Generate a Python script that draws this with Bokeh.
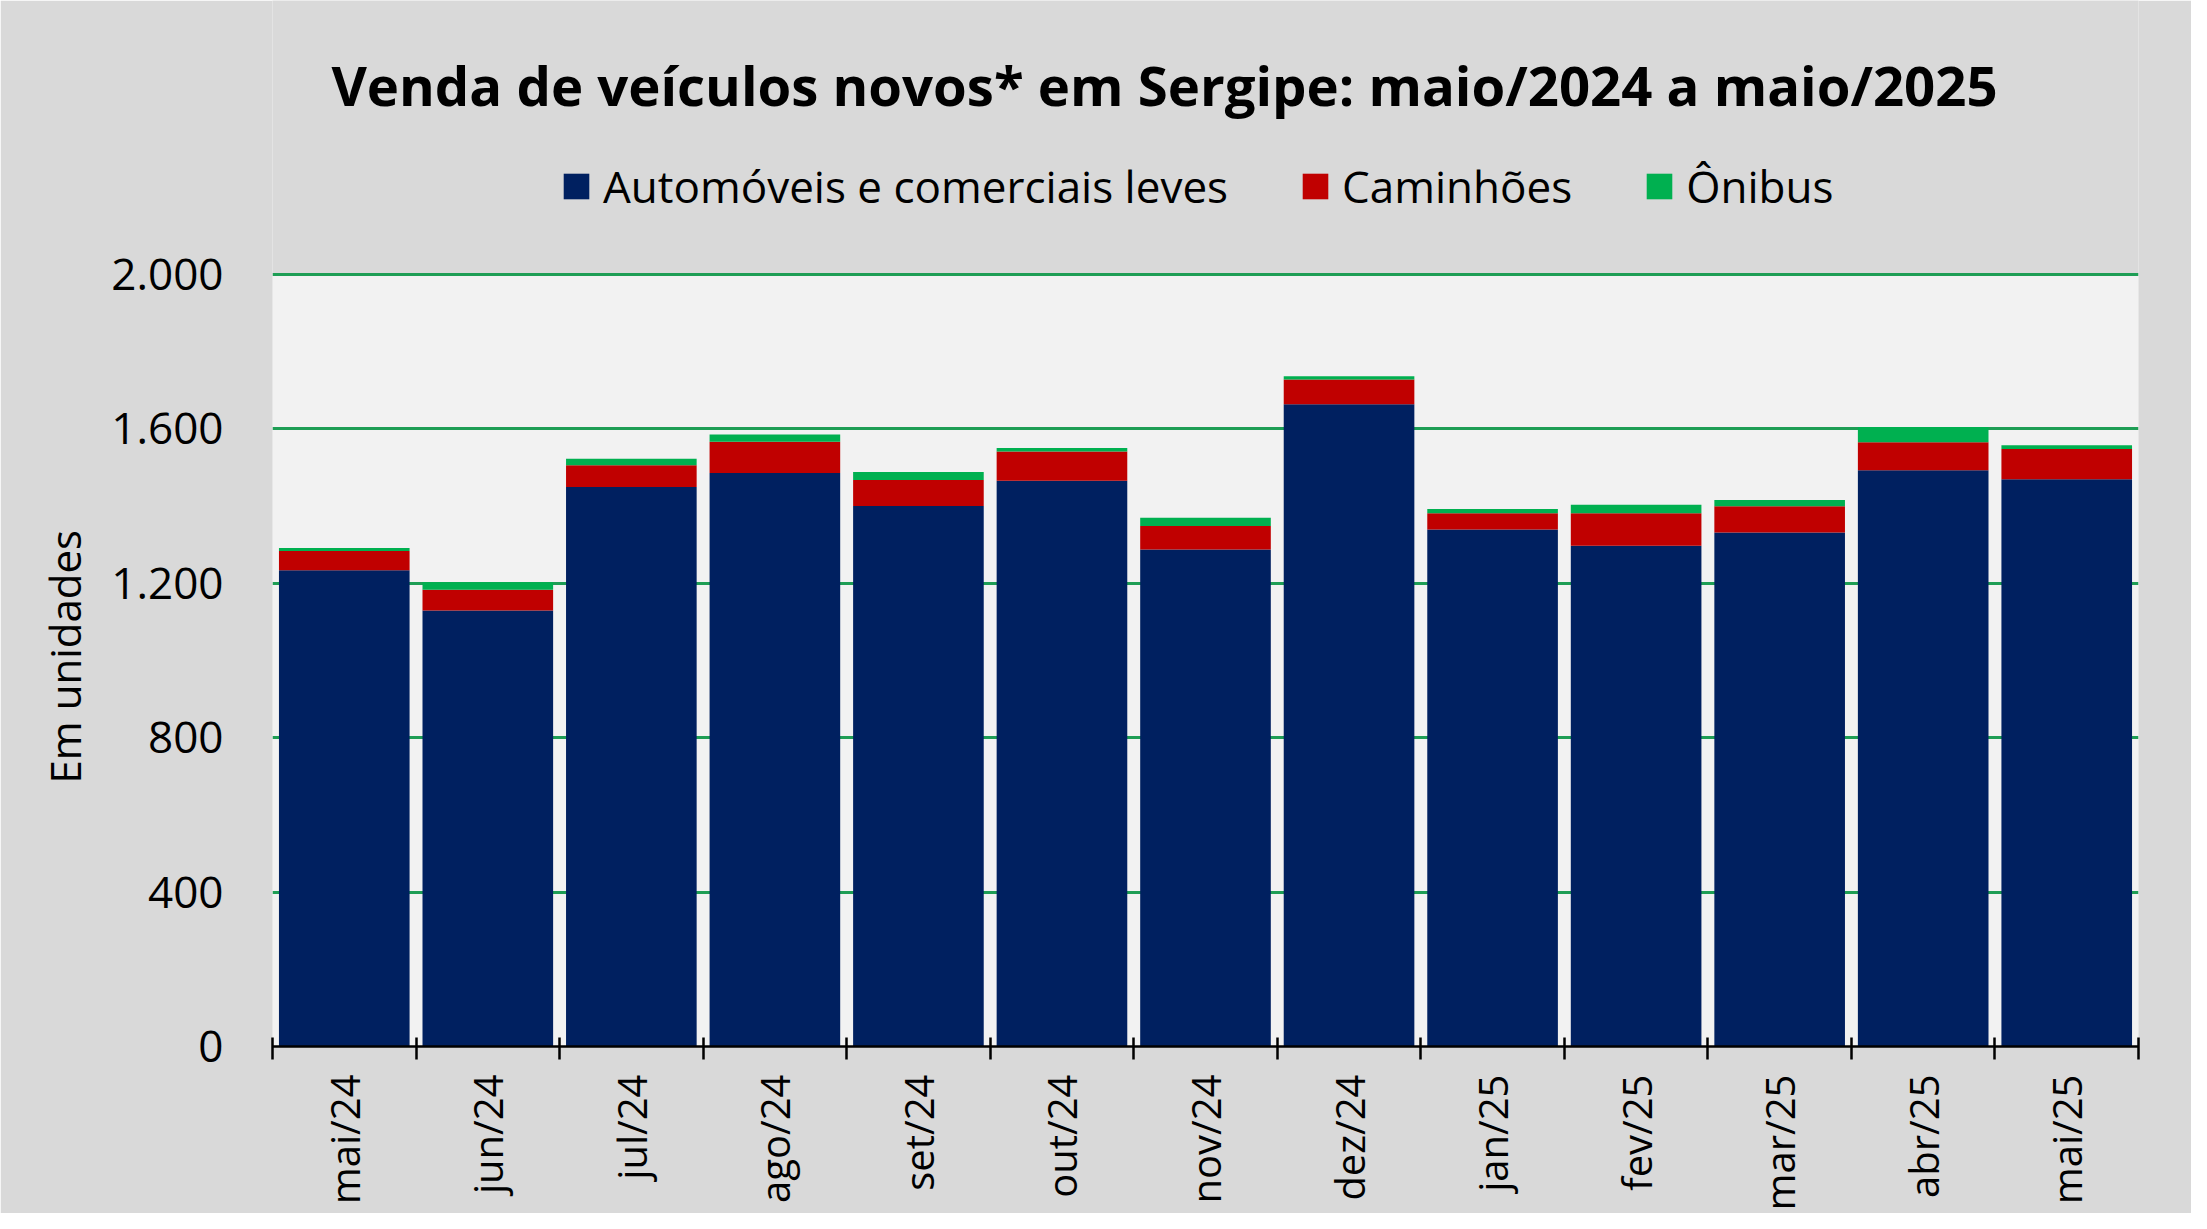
import numpy as np
from bokeh.plotting import figure
from bokeh.models import (ColumnDataSource, Range1d, FixedTicker, Legend, LegendItem, Label,
                          BoxAnnotation, Title)
from bokeh.embed import file_html
from bokeh.resources import INLINE

months = ["mai/24", "jun/24", "jul/24", "ago/24", "set/24", "out/24", "nov/24",
          "dez/24", "jan/25", "fev/25", "mar/25", "abr/25", "mai/25"]
automoveis = [1233, 1129, 1449, 1485, 1400, 1465, 1287, 1663, 1339, 1297, 1331, 1492, 1469]
caminhoes = [50, 54, 56, 81, 67, 76, 61, 64, 42, 84, 68, 73, 78]
onibus = [8, 19, 17, 19, 21, 9, 21, 9, 11, 22, 16, 39, 10]
series_names = ["Automóveis e comerciais leves", "Caminhões", "Ônibus"]
series_keys = ["auto", "cam", "oni"]
y_ticks = [0, 400, 800, 1200, 1600, 2000]
y_tick_labels = ["0", "400", "800", "1.200", "1.600", "2.000"]
title_text = "Venda de veículos novos* em Sergipe: maio/2024 a maio/2025"
y_label = "Em unidades"

FONT = "Open Sans"
colors = ["#002060", "#C00000", "#00B050"]

W, H = 2191, 1213
BL, BR, BB = 272, 53, 162
FW, FH = W - BL - BR, H - BB
PLOT_TOP = 275  # pixel row of the top of the value area
y_max_view = y_ticks[-1] * FH / (FH - PLOT_TOP)

n = len(months)
xc = np.arange(n) + 0.5
src = ColumnDataSource(dict(x=xc, auto=automoveis, cam=caminhoes, oni=onibus))

p = figure(width=W, height=H, output_backend="svg", toolbar_location=None,
           x_range=Range1d(0, n), y_range=Range1d(y_ticks[0], y_max_view),
           min_border_left=BL, min_border_right=BR, min_border_top=0, min_border_bottom=BB)
p.background_fill_color = "#D9D9D9"
p.border_fill_color = "#D9D9D9"
p.outline_line_color = None

p.add_layout(BoxAnnotation(bottom=y_ticks[0], top=y_ticks[-1], fill_color="#F2F2F2",
                           fill_alpha=1, line_color=None, level="image"))

rs = p.vbar_stack(series_keys, x="x", width=0.91, source=src, color=colors, line_color=None)

# grid
p.xgrid.grid_line_color = None
p.ygrid.ticker = FixedTicker(ticks=y_ticks)
p.ygrid.grid_line_color = "#1E9E55"
p.ygrid.grid_line_width = 3

# x axis
xa = p.xaxis[0]
xa.ticker = FixedTicker(ticks=list(xc), minor_ticks=list(np.arange(n + 1)))
xa.major_label_overrides = {float(v): m for v, m in zip(xc, months)}
xa.major_label_orientation = np.pi / 2
xa.major_tick_line_color = None
xa.major_tick_in = 0
xa.major_tick_out = 13
xa.minor_tick_in = 9
xa.minor_tick_out = 13
xa.minor_tick_line_color = "black"
xa.minor_tick_line_width = 2.5
xa.axis_line_color = "black"
xa.axis_line_width = 2.5
xa.major_label_standoff = 15
xa.major_label_text_font = FONT
xa.major_label_text_font_size = "40px"
xa.major_label_text_color = "black"

# y axis
ya = p.yaxis[0]
ya.ticker = FixedTicker(ticks=y_ticks)
ya.major_label_overrides = {v: l for v, l in zip(y_ticks, y_tick_labels)}
ya.axis_line_color = None
ya.major_tick_line_color = None
ya.minor_tick_line_color = None
ya.major_tick_in = 0
ya.major_tick_out = 0
ya.major_label_standoff = 49
ya.major_label_text_font = FONT
ya.major_label_text_font_size = "44px"
ya.major_label_text_color = "black"

# y axis title, placed along the value area
ytitle = Title(text=y_label, align="left", text_font=FONT, text_font_size="42px",
               text_font_style="normal", text_color="black", standoff=32, offset=263)
p.add_layout(ytitle, "left")

legend = Legend(items=[LegendItem(label=nm, renderers=[r]) for nm, r in zip(series_names, rs)],
                orientation="horizontal", location=(288, 830))
legend.label_text_font = FONT
legend.label_text_font_size = "44px"
legend.label_text_color = "black"
legend.glyph_width = 32
legend.glyph_height = 32
legend.label_standoff = 11
legend.spacing = 71
legend.background_fill_alpha = 0
legend.border_line_color = None
legend.padding = 0
legend.margin = 0
p.add_layout(legend, "center")

title = Label(x=892, y=962, x_units="screen", y_units="screen",
              text=title_text, text_align="center", text_baseline="alphabetic",
              text_font=FONT, text_font_size="54.5px", text_font_style="bold",
              text_color="black")
p.add_layout(title)

open("out.html", "w").write(file_html(p, INLINE))
